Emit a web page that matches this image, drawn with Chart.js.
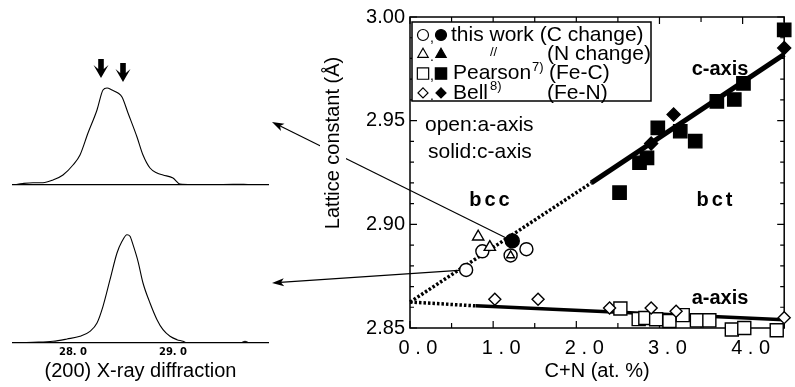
<!DOCTYPE html>
<html>
<head>
<meta charset="utf-8">
<script src="https://cdn.jsdelivr.net/npm/chart.js@4.4.1/dist/chart.umd.min.js"></script>
<style>
  html, body { margin: 0; padding: 0; background: #fff; }
  #wrap { position: relative; width: 795px; height: 387px; }
  #wrap canvas { position: absolute; left: 0; }
  #xrdTop { top: 40px; }
  #xrdBottom { top: 200px; }
  #lattice { top: 0; z-index: 2; }
</style>
</head>
<body>
<div id="wrap">
  <canvas id="xrdTop" width="280" height="150" style="width:280px;height:150px"></canvas>
  <canvas id="xrdBottom" width="280" height="187" style="width:280px;height:187px"></canvas>
  <canvas id="lattice" width="795" height="387" style="width:795px;height:387px"></canvas>
</div>
<script>
const FONT = "'Liberation Sans', Arial, Helvetica, sans-serif";
Chart.defaults.font.family = FONT;
Chart.defaults.color = '#000';

// lattice constant (Å) vs. C+N content (at.%)
const thisWorkOpen = [[0.675, 2.878], [0.87, 2.887], [1.21, 2.885], [1.40, 2.888]];
const thisWorkSolid = [[1.23, 2.892]];
const nChangeOpen = [[0.82, 2.894], [0.96, 2.889], [1.21, 2.885]];
const pearsonOpen = [[2.53, 2.8594], [2.75, 2.8543], [2.83, 2.8548], [2.96, 2.8542], [3.12, 2.8534],
  [3.28, 2.8562], [3.45, 2.8537], [3.60, 2.8537], [3.87, 2.8493], [4.02, 2.8500], [4.41, 2.8489]];
const pearsonSolid = [[2.52, 2.9153], [2.76, 2.9297], [2.85, 2.9321], [2.98, 2.9465], [3.25, 2.9449],
  [3.43, 2.9401], [3.69, 2.9593], [3.90, 2.9602], [4.01, 2.9680], [4.50, 2.9938]];
const bellOpen = [[1.02, 2.8639], [1.54, 2.8639], [2.40, 2.8596], [2.90, 2.8596], [3.20, 2.8581], [4.50, 2.8550]];
const bellSolid = [[2.90, 2.9390], [3.17, 2.9530], [4.50, 2.9850]];

// fitted trends (solid) and their extrapolation back to pure iron (dotted)
const cAxisFit = [[2.18, 2.9200], [4.50, 2.9820]];
const cAxisExtrap = [[0, 2.8625], [2.18, 2.9200]];
const aAxisFit = [[0.79, 2.8607], [4.50, 2.8540]];
const aAxisExtrap = [[0, 2.8625], [0.79, 2.8607]];

// (200) diffraction profiles: 2θ (deg) and intensity (arb.)
const upperTheta = [27.40, 27.50, 27.60, 27.70, 27.80, 27.90, 28.00, 28.07, 28.15, 28.24, 28.30, 28.34,
  28.39, 28.45, 28.49, 28.55, 28.64, 28.70, 28.77, 28.84, 28.90, 29.00, 29.07, 29.20, 29.40, 29.60, 29.75, 29.95];
const upperCounts = [0, 1.5, 2.3, 2.3, 5, 10, 20, 30, 52, 75, 95, 97,
  95, 92, 88, 72, 48, 30, 17, 12, 10, 7, 1, 0.5, 0.3, 0.8, 0.5, 0];
const lowerTheta = [27.40, 27.60, 27.80, 27.94, 28.07, 28.17, 28.24, 28.30, 28.37, 28.44, 28.49, 28.54,
  28.57, 28.60, 28.65, 28.70, 28.77, 28.84, 28.90, 28.97, 29.04, 29.10, 29.14, 29.30, 29.50, 29.68, 29.72, 29.76, 29.95];
const lowerCounts = [0, 0.7, 1.7, 4, 6.7, 11.7, 20, 36.7, 63.3, 90, 101.7, 108.3,
  106.7, 98.3, 81.7, 60, 40, 23.3, 13.3, 6.7, 3.3, 1.7, 0, 0.5, 0.3, 0.5, 1.7, 0.3, 0];
const thetaTicks = [28, 29];
const peakMarks = [28.28, 28.50];     // split peak positions
const peakMarkTops = [107, 103];
const pointerTheta = 29.99;           // where the pointers from the main plot land
const pointerLevels = [63, 60];

const pts = arr => arr.map(([x, y]) => ({ x, y }));
const zip = (xs, ys) => xs.map((x, i) => ({ x, y: ys[i] }));

function profileChart(id, theta, counts, yMax, extra) {
  return new Chart(document.getElementById(id), {
    type: 'line',
    data: {
      datasets: [{
        data: zip(theta, counts),
        borderColor: '#000',
        borderWidth: 1.1,
        pointRadius: 0,
        cubicInterpolationMode: 'monotone',
        fill: false
      }]
    },
    options: {
      responsive: false,
      animation: false,
      events: [],
      layout: { padding: extra.padding },
      plugins: { legend: { display: false }, tooltip: { enabled: false } },
      scales: {
        x: Object.assign({
          type: 'linear',
          min: 27.4,
          max: 29.95,
          grid: { display: false, drawTicks: false },
          border: { display: true, color: '#000', width: 1.2 }
        }, extra.x),
        y: { display: false, min: 0, max: yMax }
      }
    },
    plugins: extra.plugins || []
  });
}

// heavy arrows marking the doublet
const peakArrows = {
  id: 'peakArrows',
  afterDatasetsDraw(chart) {
    const { ctx, scales: { x, y } } = chart;
    ctx.save();
    ctx.fillStyle = '#000';
    peakMarks.forEach((t, i) => {
      const px = x.getPixelForValue(t);
      const py = y.getPixelForValue(peakMarkTops[i]);
      ctx.beginPath();
      ctx.moveTo(px, py);
      ctx.lineTo(px + 7.5, py - 13);
      ctx.lineTo(px + 2.8, py - 9);
      ctx.lineTo(px + 2.8, py - 19);
      ctx.lineTo(px - 2.8, py - 19);
      ctx.lineTo(px - 2.8, py - 9);
      ctx.lineTo(px - 7.5, py - 13);
      ctx.closePath();
      ctx.fill();
    });
    ctx.restore();
  }
};

const topChart = profileChart('xrdTop', upperTheta, upperCounts, 110, {
  padding: { left: 13, right: 12, top: 35, bottom: 5 },
  x: { afterFit(s) { s.height = 0; }, ticks: { display: false } },
  plugins: [peakArrows]
});

const bottomChart = profileChart('xrdBottom', lowerTheta, lowerCounts, 130, {
  padding: { left: 13, right: 12, top: 13, bottom: 0 },
  x: {
    afterFit(s) { s.height = 44; },
    afterBuildTicks(s) { s.ticks = thetaTicks.map(v => ({ value: v })); },
    ticks: {
      padding: 3,
      font: { family: "'DejaVu Sans', sans-serif", size: 10, weight: 'bold' },
      callback: v => v.toFixed(1).replace('.', '. ')
    },
    title: { display: true, text: '(200) X-ray diffraction', font: { size: 20 }, padding: { top: 0, bottom: 4 } }
  }
});

function marker(data, style, radius, filled) {
  return {
    data: pts(data),
    pointStyle: style,
    pointRadius: radius,
    pointHoverRadius: radius,
    pointBackgroundColor: filled ? '#000' : '#fff',
    pointBorderColor: '#000',
    pointBorderWidth: 1.4,
    showLine: false,
    clip: false
  };
}

function trend(data, width, dash) {
  return {
    type: 'line',
    data: pts(data),
    borderColor: '#000',
    borderWidth: width,
    borderDash: dash || [],
    borderCapStyle: 'butt',
    pointRadius: 0,
    fill: false,
    clip: false
  };
}

function arrow(ctx, x0, y0, x1, y1) {
  const ang = Math.atan2(y1 - y0, x1 - x0);
  const c = Math.cos(ang), s = Math.sin(ang);
  ctx.beginPath();
  ctx.moveTo(x0, y0);
  ctx.lineTo(x1 - 8 * c, y1 - 8 * s);
  ctx.stroke();
  ctx.beginPath();
  ctx.moveTo(x1, y1);
  ctx.lineTo(x1 - 12 * c + 4 * s, y1 - 12 * s - 4 * c);
  ctx.lineTo(x1 - 9 * c, y1 - 9 * s);
  ctx.lineTo(x1 - 12 * c - 4 * s, y1 - 12 * s + 4 * c);
  ctx.closePath();
  ctx.fill();
}

function tipOf(chart, level) {
  const c = chart.canvas;
  return [c.offsetLeft + chart.scales.x.getPixelForValue(pointerTheta),
          c.offsetTop + chart.scales.y.getPixelForValue(level)];
}

const legendRows = [
  { style: 'circle', r: 5.5, sep: ',', parts: [['this work (C change)', 39]] },
  { style: 'triangle', r: 6, sep: '.', parts: [['〃', 78, 'ditto'], ['(N change)', 135]] },
  { style: 'rect', r: 8, sep: ',', parts: [['Pearson', 41], ['7)', 120, 'sup'], ['(Fe-C)', 137]] },
  { style: 'rectRot', r: 5, sep: '.', parts: [['Bell', 41], ['8)', 78, 'sup'], ['(Fe-N)', 135]] }
];

function drawMark(ctx, style, r, x, y, filled) {
  ctx.fillStyle = filled ? '#000' : '#fff';
  ctx.strokeStyle = '#000';
  ctx.lineWidth = 1.2;
  Chart.helpers.drawPoint(ctx, { pointStyle: style, radius: r, rotation: 0, borderWidth: 1.2 }, x, y);
}

const latticeDecor = {
  id: 'latticeDecor',
  beforeDatasetsDraw(chart) {
    const { ctx, chartArea: a, scales: { x, y } } = chart;
    ctx.save();
    ctx.strokeStyle = '#000';
    ctx.fillStyle = '#000';

    // frame with inward ticks on all four sides
    ctx.lineWidth = 1.5;
    ctx.strokeRect(a.left, a.top, a.width, a.height);
    ctx.lineWidth = 1.2;
    ctx.beginPath();
    x.ticks.forEach(t => {
      const px = x.getPixelForValue(t.value);
      const len = Number.isInteger(t.value) ? 7 : 5;
      ctx.moveTo(px, a.bottom); ctx.lineTo(px, a.bottom - len);
      ctx.moveTo(px, a.top); ctx.lineTo(px, a.top + len);
    });
    y.ticks.forEach(t => {
      const py = y.getPixelForValue(t.value);
      const len = Math.round(t.value * 100) % 5 === 0 ? 7 : 4;
      ctx.moveTo(a.left, py); ctx.lineTo(a.left + len, py);
      ctx.moveTo(a.right, py); ctx.lineTo(a.right - len, py);
    });
    ctx.stroke();

    // pointers from the measured points to their diffraction profiles
    ctx.lineWidth = 1.2;
    const [sx, sy] = thisWorkSolid[0];
    const [ox, oy] = thisWorkOpen[0];
    const t1 = tipOf(topChart, pointerLevels[0]);
    const t2 = tipOf(bottomChart, pointerLevels[1]);
    arrow(ctx, x.getPixelForValue(sx), y.getPixelForValue(sy), t1[0], t1[1]);
    arrow(ctx, x.getPixelForValue(ox), y.getPixelForValue(oy), t2[0], t2[1]);

    // y axis title on a white backing
    ctx.save();
    ctx.translate(a.left - 77, a.top + 126);
    ctx.rotate(-Math.PI / 2);
    ctx.font = '20px ' + FONT;
    ctx.textAlign = 'center';
    ctx.textBaseline = 'middle';
    const label = 'Lattice constant (Å)';
    const w = ctx.measureText(label).width;
    ctx.fillStyle = '#fff';
    ctx.fillRect(-w / 2 - 4, -13, w + 8, 26);
    ctx.fillStyle = '#000';
    ctx.fillText(label, 0, 0);
    ctx.restore();
    ctx.restore();
  },
  afterDatasetsDraw(chart) {
    const { ctx, chartArea: a } = chart;
    ctx.save();
    ctx.fillStyle = '#000';
    ctx.textBaseline = 'middle';

    ctx.textAlign = 'center';
    ctx.font = 'bold 20px ' + FONT;
    ctx.fillText('c-axis', a.left + 310, a.top + 52);
    ctx.fillText('a-axis', a.left + 310, a.top + 281);
    ctx.letterSpacing = '3px';
    ctx.fillText('bcc', a.left + 81, a.top + 183);
    ctx.fillText('bct', a.left + 306, a.top + 183);
    ctx.letterSpacing = '0px';

    ctx.textAlign = 'left';
    ctx.font = '21px ' + FONT;
    ctx.fillText('open:a-axis', a.left + 15, a.top + 108);
    ctx.fillText('solid:c-axis', a.left + 18, a.top + 135);

    // legend box
    const bx = a.left + 2, by = a.top + 5;
    ctx.fillStyle = '#fff';
    ctx.fillRect(bx, by, 239, 79);
    ctx.strokeStyle = '#000';
    ctx.lineWidth = 1.5;
    ctx.strokeRect(bx, by, 239, 79);
    legendRows.forEach((row, i) => {
      const ry = by + 13 + i * 19.3;
      drawMark(ctx, row.style, row.r, bx + 11, ry, false);
      drawMark(ctx, row.style, row.r, bx + 29, ry, true);
      ctx.fillStyle = '#000';
      ctx.font = '14px ' + FONT;
      ctx.fillText(row.sep, bx + 18, ry + 3);
      row.parts.forEach(([text, dx, kind]) => {
        if (kind === 'sup') {
          ctx.font = '13px ' + FONT;
          ctx.fillText(text, bx + dx, ry - 6);
        } else if (kind === 'ditto') {
          ctx.font = '13px ' + FONT;
          ctx.fillText('//', bx + dx, ry - 2);
        } else {
          ctx.font = '21px ' + FONT;
          ctx.fillText(text, bx + dx, ry);
        }
      });
    });
    ctx.restore();
  }
};

new Chart(document.getElementById('lattice'), {
  type: 'scatter',
  data: {
    datasets: [
      marker(thisWorkSolid, 'circle', 7, true),
      Object.assign(marker(nChangeOpen, 'triangle', 6.5, false), { pointRadius: [6.5, 6.5, 4.6] }),
      marker(thisWorkOpen, 'circle', 6.5, false),
      marker(bellSolid, 'rectRot', 6.5, true),
      marker(pearsonSolid, 'rect', 9.4, true),
      marker(bellOpen, 'rectRot', 6, false),
      marker(pearsonOpen, 'rect', 9.2, false),
      trend(cAxisFit, 5),
      trend(aAxisFit, 3.5),
      trend(cAxisExtrap, 3.5, [2.5, 2]),
      trend(aAxisExtrap, 3.5, [2.5, 2])
    ]
  },
  options: {
    responsive: false,
    animation: false,
    events: [],
    layout: { padding: { left: 350, right: 7, top: 15, bottom: 0 } },
    plugins: { legend: { display: false }, tooltip: { enabled: false } },
    scales: {
      x: {
        type: 'linear',
        min: 0,
        max: 4.5,
        afterFit(s) { s.height = 59; },
        grid: { display: false, drawTicks: false },
        border: { display: false },
        ticks: {
          stepSize: 0.5,
          autoSkip: false,
          maxRotation: 0,
          padding: 8,
          labelOffset: 8,
          font: { size: 20 },
          callback: v => Number.isInteger(v) ? v.toFixed(1).split('').join(' ') : ''
        },
        title: { display: true, text: 'C+N (at. %)', font: { size: 20 }, padding: { top: 0, bottom: 4 } }
      },
      y: {
        min: 2.85,
        max: 3.00,
        afterFit(s) { s.width = 60; },
        grid: { display: false, drawTicks: false },
        border: { display: false },
        ticks: {
          stepSize: 0.01,
          autoSkip: false,
          padding: 5,
          font: { size: 20 },
          callback: v => Math.round(v * 100) % 5 === 0 ? v.toFixed(2) : ''
        }
      }
    }
  },
  plugins: [latticeDecor]
});
</script>
</body>
</html>
